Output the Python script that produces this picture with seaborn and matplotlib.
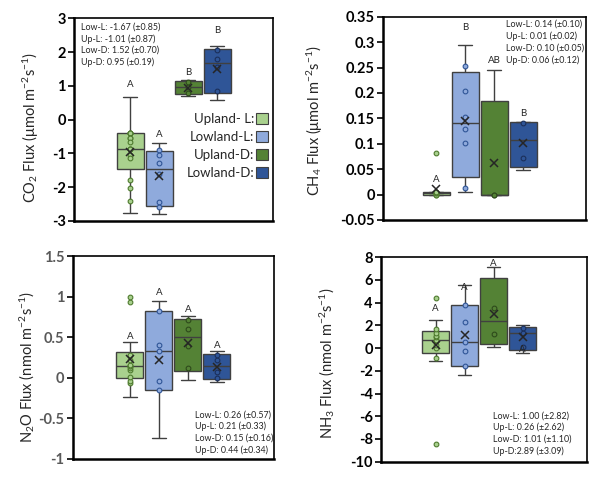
import numpy as np
import pandas as pd
import matplotlib
matplotlib.use("Agg")
import matplotlib.pyplot as plt
import matplotlib.cbook as cbook
from matplotlib.patches import Patch
import seaborn as sns
import seaborn.categorical as sns_cat

# ---------------- data ----------------
groups = ["Upland-L", "Lowland-L", "Upland-D", "Lowland-D"]
legend_labels = ["Upland- L:", "Lowland-L:", "Upland-D:", "Lowland-D:"]
box_colors = ["#A9D18E", "#8FAADC", "#548235", "#2F5597"]
point_edges = ["#4E7A2E", "#2F5597", "#2E4A1C", "#1B2F5A"]

co2_upland_l = [0.67, -0.40, -0.40, -0.40, -0.40, -0.54, -0.54, -0.67, -0.87,
                -0.87, -0.87, -1.04, -1.13, -1.79, -2.01, -2.41, -2.75]
co2_lowland_l = [-0.70, -0.90, -1.05, -1.28, -1.62, -2.43, -2.60, -2.80]
co2_upland_d = [0.70, 0.80, 0.96, 1.12, 1.16]
co2_lowland_d = [0.57, 0.85, 1.57, 1.79, 2.05, 2.18]

ch4_upland_l = [0.0, 0.0, 0.0, 0.003, 0.004, 0.005, 0.005, 0.006, 0.082]
ch4_lowland_l = [0.006, 0.013, 0.101, 0.13, 0.153, 0.204, 0.253, 0.295]
ch4_upland_d = [0.0, 0.0, 0.0, 0.245]
ch4_lowland_d = [0.048, 0.072, 0.141, 0.143]

n2o_upland_l = [-0.239, -0.066, -0.04, 0.008, 0.099, 0.12, 0.14, 0.14, 0.16,
                0.222, 0.284, 0.437, 0.93, 1.0]
n2o_lowland_l = [-0.737, -0.15, -0.04, 0.325, 0.40, 0.82, 0.943]
n2o_upland_d = [-0.033, 0.115, 0.395, 0.60, 0.711, 0.766]
n2o_lowland_d = [-0.05, -0.005, 0.07, 0.214, 0.278, 0.325]

nh3_upland_l = [-8.42, -1.1, -0.84, 0.05, 0.3, 0.6, 0.69, 0.96, 1.1, 1.34,
                1.65, 2.5, 4.42]
nh3_lowland_l = [-2.4, -1.6, -0.24, 0.51, 2.33, 3.8, 5.6]
nh3_upland_d = [0.06, 1.28, 3.49, 7.1]
nh3_lowland_d = [-0.39, 0.12, 1.34, 1.79, 2.0]

co2_ticks = [-3, -2, -1, 0, 1, 2, 3]
ch4_ticks = [-0.05, 0, 0.05, 0.1, 0.15, 0.2, 0.25, 0.3, 0.35]
n2o_ticks = [-1, -0.5, 0, 0.5, 1, 1.5]
nh3_ticks = [-10, -8, -6, -4, -2, 0, 2, 4, 6, 8]

co2_letters = ["A", "A", "B", "B"]
co2_letter_y = [1.04, -0.43, 1.41, 2.63]
ch4_letters = ["A", "B", "AB", "B"]
ch4_letter_y = [0.029, 0.329, 0.264, 0.16]
n2o_letters = ["A", "A", "A", "A"]
n2o_letter_y = [0.51, 1.046, 0.84, 0.395]
nh3_letters = ["A", "A", "A", "A"]
nh3_letter_y = [3.49, 5.37, 7.46, -0.15]

co2_summary = ["Low-L: -1.67 (\u00b10.85)", "Up-L: -1.01 (\u00b10.87)",
               "Low-D: 1.52 (\u00b10.70)", "Up-D: 0.95 (\u00b10.19)"]
ch4_summary = ["Low-L: 0.14 (\u00b10.10)", "Up-L: 0.01 (\u00b10.02)",
               "Low-D: 0.10 (\u00b10.05)", "Up-D: 0.06 (\u00b10.12)"]
n2o_summary = ["Low-L: 0.26 (\u00b10.57)", "Up-L: 0.21 (\u00b10.33)",
               "Low-D: 0.15 (\u00b10.16)", "Up-D: 0.44 (\u00b10.34)"]
nh3_summary = ["Low-L: 1.00 (\u00b12.82)", "Up-L: 0.26 (\u00b12.62)",
               "Low-D: 1.01 (\u00b11.10)", "Up-D:2.89 (\u00b13.09)"]


# Excel box-and-whisker charts use exclusive quartiles (QUARTILE.EXC)
_stock_stats = cbook.boxplot_stats


def excel_box_stats(X, whis=1.5, bootstrap=None, labels=None, autorange=False):
    stats = _stock_stats(X, whis=whis, bootstrap=bootstrap, labels=labels,
                         autorange=autorange)
    try:
        arrays = cbook._reshape_2D(X, "X")
    except Exception:
        arrays = [np.asarray(X, float)]
    for s, d in zip(stats, arrays):
        d = np.asarray(d, float)
        if d.size < 3:
            continue
        q1, q3 = np.percentile(d, [25, 75], method="weibull")
        iqr = q3 - q1
        lo, hi = q1 - whis * iqr, q3 + whis * iqr
        s["q1"], s["q3"], s["iqr"] = q1, q3, iqr
        s["whislo"] = d[d >= lo].min()
        s["whishi"] = d[d <= hi].max()
        s["fliers"] = d[(d < lo) | (d > hi)]
    return stats


cbook.boxplot_stats = excel_box_stats
matplotlib.cbook.boxplot_stats = excel_box_stats
if hasattr(sns_cat, "boxplot_stats"):
    sns_cat.boxplot_stats = excel_box_stats


def inner_points(values):
    """Excel 'inner points': all values except the whisker end values."""
    d = list(np.asarray(values, float))
    st = excel_box_stats([np.asarray(values, float)])[0]
    for end in (st["whislo"], st["whishi"]):
        if end in d:
            d.remove(end)
    return d


# ---------------- style ----------------
sns.set_style("white")
plt.rcParams["font.family"] = ["Lato", "DejaVu Sans"]
plt.rcParams["mathtext.fontset"] = "custom"
plt.rcParams["mathtext.rm"] = "Lato"
plt.rcParams["mathtext.it"] = "Lato:italic"
plt.rcParams["mathtext.bf"] = "Lato:bold"

TEXT = "#262626"
fig = plt.figure(figsize=(6.04, 4.8), dpi=100)
fig.patch.set_facecolor("white")


def draw_panel(rect, values, ylim, yticks, ylabel, label_xy, letters, letter_y,
               summary, summary_xy, summary_va, tick_color, xcenter):
    ax = fig.add_axes(rect)
    df = pd.DataFrame({
        "group": np.repeat(groups, [len(v) for v in values]),
        "value": np.concatenate([np.asarray(v, float) for v in values]),
    })
    sns.boxplot(data=df, x="group", y="value", hue="group", order=groups,
                hue_order=groups, palette=dict(zip(groups, box_colors)),
                saturation=1, width=0.93, whis=1.5, linecolor="#404040",
                linewidth=1.0, showfliers=False, showmeans=True,
                meanprops=dict(marker="x", markeredgecolor=TEXT,
                               markerfacecolor=TEXT, markersize=6,
                               markeredgewidth=1.1, zorder=6),
                legend=False, ax=ax)
    for g, v, face, edge in zip(groups, values, box_colors, point_edges):
        pts = pd.DataFrame({"group": g, "value": inner_points(v)})
        sns.stripplot(data=pts, x="group", y="value", order=groups,
                      color=face, edgecolor=edge, linewidth=0.8, size=3.4,
                      jitter=False, zorder=5, ax=ax)
    bbox_w = rect[2] * 604
    half = bbox_w / 29.0 / 2
    ax.set_xlim(xcenter - half, xcenter + half)
    ax.set_ylim(*ylim)
    ax.set_yticks(yticks, labels=[f"{t:g}" for t in yticks],
                  fontweight="bold", fontsize=10.5, color=tick_color)
    ax.set_xticks([])
    ax.set_xlabel("")
    ax.tick_params(axis="y", direction="out", length=4, width=1.2,
                   color="black", pad=2, left=True)
    for side, lw in [("left", 1.8), ("bottom", 1.8), ("top", 1.2), ("right", 1.2)]:
        ax.spines[side].set_linewidth(lw)
        ax.spines[side].set_color("black")
        ax.spines[side].set_visible(True)
    ax.set_ylabel(ylabel, fontsize=10.5, color=TEXT)
    ax.yaxis.set_label_coords(*label_xy)
    ax.yaxis.label.set_va("center")
    for i, (let, ly) in enumerate(zip(letters, letter_y)):
        ax.text(i, ly, let, ha="center", va="center", fontsize=7, color=TEXT,
                zorder=7)
    ax.text(summary_xy[0], summary_xy[1], "\n".join(summary),
            transform=ax.transAxes, ha="left", va=summary_va, fontsize=6.4,
            linespacing=1.35, color=TEXT)
    return ax


ax1 = draw_panel([0.1225, 0.5396, 0.330, 0.4223],
                 [co2_upland_l, co2_lowland_l, co2_upland_d, co2_lowland_d],
                 (-3, 3), co2_ticks,
                 "CO$_2$ Flux (\u03bcmol m$^{-2}$s$^{-1}$)", (-0.215, 0.46),
                 co2_letters, co2_letter_y, co2_summary, (0.035, 0.98), "top",
                 "black", 1.5)
ax2 = draw_panel([0.6341, 0.5417, 0.3361, 0.4235],
                 [ch4_upland_l, ch4_lowland_l, ch4_upland_d, ch4_lowland_d],
                 (-0.05, 0.35), ch4_ticks,
                 "CH$_4$ Flux (\u03bcmol m$^{-2}$s$^{-1}$)", (-0.335, 0.49),
                 ch4_letters, ch4_letter_y, ch4_summary, (0.604, 0.985), "top",
                 "black", 1.67)
ax3 = draw_panel([0.1204, 0.04375, 0.3333, 0.4229],
                 [n2o_upland_l, n2o_lowland_l, n2o_upland_d, n2o_lowland_d],
                 (-1, 1.5), n2o_ticks,
                 "N$_2$O Flux (nmol m$^{-2}$s$^{-1}$)", (-0.225, 0.455),
                 n2o_letters, n2o_letter_y, n2o_summary, (0.605, 0.02), "bottom",
                 "#595959", 1.5)
ax4 = draw_panel([0.6308, 0.0382, 0.3416, 0.4258],
                 [nh3_upland_l, nh3_lowland_l, nh3_upland_d, nh3_lowland_d],
                 (-10, 8), nh3_ticks,
                 "NH$_3$ Flux (nmol m$^{-2}$s$^{-1}$)", (-0.26, 0.48),
                 nh3_letters, nh3_letter_y, nh3_summary, (0.545, 0.028), "bottom",
                 "black", 1.67)

handles = [Patch(facecolor=c, edgecolor="#404040", linewidth=0.8, label=l)
           for c, l in zip(box_colors, legend_labels)]
ax1.legend(handles=handles, loc="center right", bbox_to_anchor=(1.0, 0.37),
           frameon=False, markerfirst=False, fontsize=9.5, handlelength=0.9,
           handleheight=0.9, handletextpad=0.15, labelspacing=0.45,
           borderaxespad=0.0, labelcolor=TEXT)

fig.savefig("out.png", dpi=100, facecolor="white")
